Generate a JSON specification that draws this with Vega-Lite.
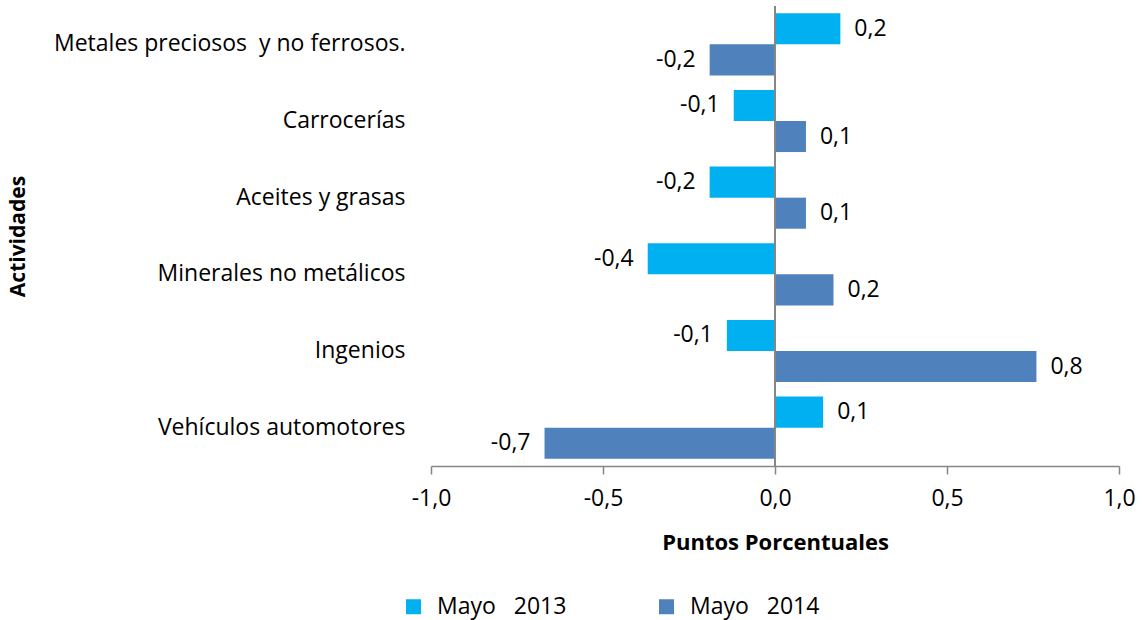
{
  "$schema": "https://vega.github.io/schema/vega-lite/v6.json",
  "width": 688,
  "height": 460,
  "autosize": {"type": "none"},
  "padding": {"left": 431, "top": 6, "right": 25, "bottom": 154},
  "config": {
    "locale": {"number": {"decimal": ",", "thousands": ".", "grouping": [3], "currency": ["", ""], "minus": "-"}},
    "view": {"stroke": null},
    "font": "Open Sans"
  },
  "data": {
    "values": [
      {"Actividad": "Metales preciosos\u00a0 y no ferrosos.", "Serie": "Mayo\u00a0\u00a0 2013", "Valor": 0.19},
      {"Actividad": "Metales preciosos\u00a0 y no ferrosos.", "Serie": "Mayo\u00a0\u00a0 2014", "Valor": -0.19},
      {"Actividad": "Carrocerías", "Serie": "Mayo\u00a0\u00a0 2013", "Valor": -0.12},
      {"Actividad": "Carrocerías", "Serie": "Mayo\u00a0\u00a0 2014", "Valor": 0.09},
      {"Actividad": "Aceites y grasas\u00a0", "Serie": "Mayo\u00a0\u00a0 2013", "Valor": -0.19},
      {"Actividad": "Aceites y grasas\u00a0", "Serie": "Mayo\u00a0\u00a0 2014", "Valor": 0.09},
      {"Actividad": "Minerales no metálicos", "Serie": "Mayo\u00a0\u00a0 2013", "Valor": -0.37},
      {"Actividad": "Minerales no metálicos", "Serie": "Mayo\u00a0\u00a0 2014", "Valor": 0.17},
      {"Actividad": "Ingenios\u00a0", "Serie": "Mayo\u00a0\u00a0 2013", "Valor": -0.14},
      {"Actividad": "Ingenios\u00a0", "Serie": "Mayo\u00a0\u00a0 2014", "Valor": 0.76},
      {"Actividad": "Vehículos automotores", "Serie": "Mayo\u00a0\u00a0 2013", "Valor": 0.14},
      {"Actividad": "Vehículos automotores", "Serie": "Mayo\u00a0\u00a0 2014", "Valor": -0.67}
    ]
  },
  "layer": [
    {
      "mark": {"type": "bar"},
      "encoding": {
        "y": {
          "field": "Actividad", "type": "nominal", "sort": null,
          "scale": {"paddingInner": 0.19, "paddingOuter": 0.095},
          "axis": {
            "title": "Actividades", "domain": false, "ticks": false,
            "labelFontSize": 23, "labelColor": "black", "labelPadding": 26, "labelLimit": 500,
            "titleFontSize": 21, "titleFontWeight": "bold", "titleColor": "black",
            "titleX": -403, "titleY": 230
          }
        },
        "yOffset": {"field": "Serie", "type": "nominal", "sort": null, "scale": {"paddingInner": 0, "paddingOuter": 0}},
        "x": {
          "field": "Valor", "type": "quantitative",
          "scale": {"domain": [-1, 1], "nice": false},
          "axis": {
            "title": "Puntos Porcentuales", "values": [-1, -0.5, 0, 0.5, 1], "format": ".1f",
            "grid": false, "domainColor": "#868686", "tickColor": "#868686",
            "domainWidth": 1.5, "tickWidth": 1.5, "tickSize": 8,
            "labelFontSize": 23, "labelColor": "black", "labelPadding": 13, "labelFlush": false,
            "titleFontSize": 22, "titleFontWeight": "bold", "titleColor": "black", "titlePadding": 22
          }
        },
        "color": {
          "field": "Serie", "type": "nominal",
          "scale": {"domain": ["Mayo\u00a0\u00a0 2013", "Mayo\u00a0\u00a0 2014"], "range": ["#00B0F0", "#4F81BD"]},
          "legend": {
            "title": null, "orient": "none", "legendX": -29, "legendY": 589, "direction": "horizontal",
            "symbolType": "square", "symbolSize": 225, "symbolStrokeWidth": 0,
            "labelFontSize": 23, "labelColor": "black", "labelOffset": 12, "columnPadding": 88
          }
        }
      }
    },
    {
      "transform": [{"filter": "datum.Valor >= 0"}],
      "mark": {"type": "text", "align": "left", "baseline": "middle", "dx": 14, "fontSize": 23, "color": "black"},
      "encoding": {
        "y": {"field": "Actividad", "type": "nominal", "sort": null},
        "yOffset": {"field": "Serie", "type": "nominal", "sort": null},
        "x": {"field": "Valor", "type": "quantitative"},
        "text": {"field": "Valor", "type": "quantitative", "format": ".1f"}
      }
    },
    {
      "transform": [{"filter": "datum.Valor < 0"}],
      "mark": {"type": "text", "align": "right", "baseline": "middle", "dx": -14, "fontSize": 23, "color": "black"},
      "encoding": {
        "y": {"field": "Actividad", "type": "nominal", "sort": null},
        "yOffset": {"field": "Serie", "type": "nominal", "sort": null},
        "x": {"field": "Valor", "type": "quantitative"},
        "text": {"field": "Valor", "type": "quantitative", "format": ".1f"}
      }
    },
    {
      "data": {"values": [{}]},
      "mark": {"type": "rule", "color": "#868686", "strokeWidth": 2},
      "encoding": {"x": {"datum": 0}}
    }
  ]
}
